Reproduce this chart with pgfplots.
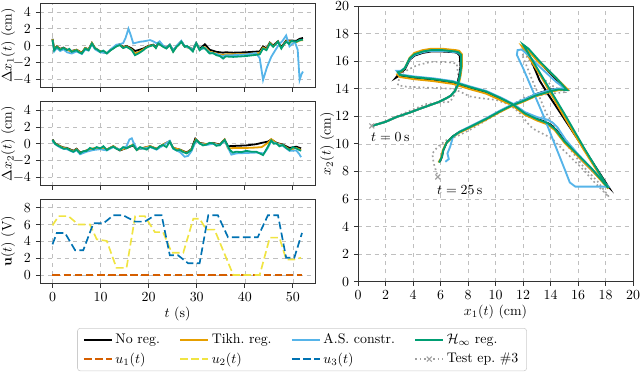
\documentclass[border=0pt]{standalone}
\usepackage{pgfplots}
\pgfplotsset{compat=1.18}

\definecolor{cnoreg}{HTML}{000000}
\definecolor{ctikh}{HTML}{E69F00}
\definecolor{cas}{HTML}{56B4E9}
\definecolor{chinf}{HTML}{009E73}
\definecolor{cuone}{HTML}{D55E00}
\definecolor{cutwo}{HTML}{F0E442}
\definecolor{cuthree}{HTML}{0072B2}
\definecolor{ctest}{HTML}{A0A0A0}

\pgfplotsset{
  panel/.style={
    scale only axis,
    axis line style={black!80, line width=0.7pt},
    grid=major,
    grid style={dashed, black!25, line width=0.4pt},
    tick align=outside,
    major tick length=3pt,
    tick style={black!80, line width=0.6pt},
    xtick pos=bottom, ytick pos=left,
    xlabel style={yshift=3pt},
    every axis plot/.append style={line width=1.3pt},
  },
  ts/.style={
    panel, width=198pt, height=60.5pt,
    xmin=-2.6, xmax=54.6, xtick={0,10,...,50},
    every axis y label/.style={at={(axis description cs:-0.116,0.5)}, rotate=90, anchor=center},
  },
}

\begin{document}
\begin{tikzpicture}
\path[use as bounding box] (0,0) rectangle (460.8pt,267.84pt);

% --- Delta x1 ---
\begin{axis}[ts, at={(28.8pt,265.3pt)}, anchor=north west,
  ymin=-5, ymax=5, ytick={-4,-2,...,4}, xticklabels={},
  ylabel={$\Delta x_1(t)$ (cm)}]
\addplot[cnoreg] coordinates {(0,0.8)(0.35,-0.4)(0.9,-0.1)(1.6,-0.4)(2.3,-0.25)(3.0,-0.5)(4.0,-0.65)(5.0,-0.5)(6.1,-0.85)(6.8,-0.3)(7.5,-0.45)(8.2,0.3)(8.85,-0.3)(9.9,-0.7)(11.3,-0.9)(12.0,-0.55)(12.65,-0.3)(13.3,0.0)(14.0,0.15)(14.7,-0.2)(15.4,-0.05)(16.5,-0.35)(17.15,-0.65)(17.85,-0.55)(18.9,-0.35)(19.9,-0.05)(20.95,0.1)(21.5,-0.2)(22.0,0.3)(23.0,-0.05)(23.7,-0.25)(24.4,0.1)(25.1,-0.6)(25.8,-0.1)(26.8,0.5)(27.5,-0.1)(28.6,-0.25)(29.2,-0.5)(29.9,0.3)(30.6,-0.4)(31.7,0.15)(32.7,-0.5)(34.1,-0.75)(35.5,-0.85)(36.0,-0.8)(37.6,-0.85)(40.3,-0.8)(43.1,-0.7)(43.8,-0.1)(44.5,-0.35)(45.2,0.35)(45.9,0.0)(46.9,0.5)(47.6,-0.2)(48.6,0.6)(49.7,0.6)(50.7,0.55)(51.4,0.8)(52.1,0.9)};
\addplot[ctikh] coordinates {(0,0.75)(0.35,-0.5)(0.9,-0.1)(1.6,-0.45)(2.3,-0.3)(3.0,-0.5)(4.0,-0.7)(5.0,-0.5)(6.1,-0.9)(6.8,-0.3)(7.5,-0.5)(8.2,0.3)(8.85,-0.3)(9.9,-0.7)(11.3,-0.9)(12.0,-0.55)(12.65,-0.3)(13.3,-0.05)(14.0,0.1)(14.7,-0.25)(15.4,-0.1)(16.5,-0.5)(17.15,-0.95)(17.85,-0.8)(18.9,-0.45)(19.9,-0.1)(20.95,0.05)(21.5,-0.25)(22.0,0.25)(23.0,-0.1)(23.7,-0.3)(24.4,0.05)(25.1,-0.7)(25.8,-0.15)(26.8,0.45)(27.5,-0.15)(28.6,-0.3)(29.2,-0.6)(29.9,0.25)(30.6,-0.5)(31.7,-0.2)(32.7,-0.75)(34.1,-0.95)(35.5,-1.15)(36.0,-1.05)(37.6,-1.05)(40.3,-1.0)(43.1,-0.9)(43.8,-0.25)(44.5,-0.45)(45.2,0.3)(45.9,-0.1)(46.9,0.45)(47.6,-0.3)(48.6,0.5)(49.7,0.5)(50.7,0.4)(51.4,0.6)(52.1,0.65)};
\addplot[cas] coordinates {(0,0.6)(0.35,-0.7)(0.9,-0.3)(1.6,-0.65)(2.3,-0.45)(3.0,-0.8)(4.0,-0.95)(5.0,-0.7)(6.1,-1.0)(6.8,-0.5)(7.5,-0.6)(8.2,0.15)(8.85,-0.45)(9.9,-0.8)(11.3,-0.9)(12.0,-0.5)(12.65,-0.2)(13.3,0.1)(14.0,0.15)(14.7,0.3)(15.2,0.9)(15.8,2.0)(16.3,1.2)(16.8,0.25)(17.5,0.35)(18.2,0.45)(19.0,0.5)(19.9,0.6)(20.3,0.65)(20.95,0.5)(21.7,0.25)(22.3,0.5)(23.0,0.0)(23.7,-0.3)(24.4,0.1)(25.1,-0.6)(25.8,-0.05)(26.8,0.55)(27.5,-0.1)(28.6,-0.3)(29.2,-0.55)(29.9,0.3)(30.6,-0.5)(31.7,-0.3)(32.7,-0.85)(34.1,-1.0)(35.5,-1.3)(36.0,-1.15)(37.6,-1.15)(40.3,-1.05)(42.3,-0.9)(43.1,-1.5)(43.8,-4.1)(44.6,-2.6)(45.5,-1.35)(46.4,-0.5)(47.2,0.2)(47.9,0.6)(48.6,1.2)(49.3,-0.1)(50.4,0.45)(51.0,-0.5)(51.4,-4.1)(51.8,-3.4)(52.1,-3.1)};
\addplot[chinf] coordinates {(0,0.7)(0.35,-0.55)(0.9,-0.15)(1.6,-0.5)(2.3,-0.3)(3.0,-0.55)(3.5,-0.4)(4.0,-0.75)(5.0,-0.55)(5.5,-0.8)(6.1,-0.95)(6.8,-0.35)(7.5,-0.55)(8.2,0.25)(8.85,-0.35)(9.4,-0.5)(9.9,-0.75)(10.6,-0.6)(11.3,-0.95)(12.0,-0.6)(12.65,-0.35)(13.3,-0.1)(14.0,0.05)(14.7,-0.3)(15.4,-0.15)(16.0,-0.35)(16.5,-0.55)(17.15,-1.15)(17.85,-0.95)(18.4,-0.75)(18.9,-0.55)(19.4,-0.3)(19.9,-0.15)(20.95,0.05)(21.5,-0.3)(22.0,0.25)(23.0,-0.15)(23.7,-0.35)(24.4,0.05)(25.1,-0.75)(25.8,-0.15)(26.3,0.1)(26.8,0.45)(27.5,-0.15)(28.0,-0.05)(28.6,-0.35)(29.2,-0.7)(29.9,0.25)(30.6,-0.55)(31.2,-0.2)(31.7,-0.35)(32.7,-0.95)(33.4,-0.9)(34.1,-1.15)(34.8,-1.25)(35.5,-1.55)(36.0,-1.3)(37.6,-1.35)(40.3,-1.25)(43.1,-1.05)(43.8,-0.35)(44.5,-0.55)(45.2,0.25)(45.9,-0.15)(46.9,0.45)(47.6,-0.35)(48.1,0.1)(48.6,0.45)(49.2,0.2)(49.7,0.55)(50.7,0.45)(51.4,0.65)(52.1,0.7)};
\end{axis}

% --- Delta x2 ---
\begin{axis}[ts, at={(28.8pt,194.6pt)}, anchor=north west,
  ymin=-5, ymax=5, ytick={-4,-2,...,4}, xticklabels={},
  ylabel={$\Delta x_2(t)$ (cm)}]
\addplot[cnoreg] coordinates {(0,0.5)(0.55,0.05)(1.6,-0.3)(2.3,-0.45)(3.0,-0.5)(4.35,-0.85)(5.0,-0.6)(5.75,-1.05)(7.1,-0.8)(8.5,-0.6)(9.9,-0.5)(11.3,-0.7)(12.65,-0.3)(14.0,-0.8)(15.4,-0.5)(16.8,-0.2)(17.5,-0.7)(18.9,-0.5)(20.3,-0.3)(21.65,-0.6)(23.0,-0.1)(24.4,0.3)(25.1,-0.5)(26.5,-0.7)(27.9,-1.05)(28.9,-0.65)(29.7,0.6)(30.6,0.1)(32.0,-0.05)(33.4,0.1)(34.8,-0.1)(35.8,0.5)(36.5,-0.3)(38.2,-0.25)(40.3,-0.2)(42.4,-0.05)(43.5,0.1)(44.8,0.25)(45.5,0.5)(46.6,0.1)(47.9,-0.1)(49.3,-0.5)(50.7,-0.35)(51.7,-0.55)};
\addplot[ctikh] coordinates {(0,0.45)(0.55,0.0)(1.6,-0.3)(2.3,-0.5)(3.0,-0.55)(4.35,-0.9)(5.0,-0.65)(5.75,-1.1)(7.1,-0.8)(8.5,-0.55)(9.9,-0.5)(11.3,-0.7)(12.65,-0.3)(14.0,-0.75)(15.4,-0.5)(16.8,-0.1)(17.5,-0.7)(18.9,-0.5)(20.3,-0.3)(21.65,-0.6)(23.0,-0.1)(24.4,0.3)(25.1,-0.5)(26.5,-0.7)(27.9,-1.1)(28.9,-0.7)(29.8,0.5)(30.6,0.05)(32.0,-0.05)(33.4,0.05)(34.8,-0.15)(35.8,0.5)(36.5,-0.55)(38.2,-0.5)(40.3,-0.5)(42.4,-0.45)(43.5,-0.4)(44.8,0.1)(45.5,0.55)(46.6,0.05)(47.9,-0.15)(49.3,-0.7)(50.7,-0.5)(51.7,-0.75)};
\addplot[cas] coordinates {(0,0.35)(0.55,-0.05)(1.6,-0.45)(2.3,-0.6)(3.0,-0.65)(4.35,-1.0)(5.0,-0.75)(5.75,-1.25)(7.1,-0.95)(8.5,-0.75)(9.9,-0.65)(11.3,-0.8)(12.65,-0.4)(14.0,-0.7)(15.4,-0.3)(16.0,0.5)(16.5,0.65)(16.8,0.2)(17.5,-0.6)(18.9,-0.6)(20.3,-0.4)(21.65,-0.7)(23.0,-0.2)(24.4,0.35)(25.1,-0.6)(26.5,-1.0)(27.5,-1.55)(28.2,-1.45)(28.9,-0.9)(29.9,0.4)(30.6,0.0)(32.0,-0.15)(33.4,0.0)(34.8,-0.2)(35.8,0.4)(37.2,-1.3)(38.2,-1.15)(40.3,-1.1)(42.4,-1.05)(44.0,-1.15)(44.8,-0.5)(45.5,0.3)(46.6,0.0)(47.9,-0.25)(49.3,-0.85)(50.7,-0.8)(51.3,-1.2)(51.7,-1.6)};
\addplot[chinf] coordinates {(0,0.45)(0.55,0.0)(1.0,-0.2)(1.6,-0.35)(2.3,-0.6)(3.0,-0.55)(3.7,-0.8)(4.35,-0.95)(5.0,-0.7)(5.75,-1.15)(6.4,-0.9)(7.1,-0.85)(7.8,-0.5)(8.5,-0.65)(9.2,-0.4)(9.9,-0.55)(10.6,-0.3)(11.3,-0.75)(12.0,-0.5)(12.65,-0.35)(13.3,-0.6)(14.0,-0.75)(14.7,-0.4)(15.4,-0.55)(16.1,-0.3)(16.8,-0.15)(17.5,-0.75)(18.2,-0.4)(18.9,-0.55)(19.6,-0.7)(20.3,-0.35)(21.0,-0.5)(21.65,-0.65)(22.3,-0.3)(23.0,-0.15)(23.7,-0.4)(24.4,0.25)(25.1,-0.55)(25.8,-0.8)(26.5,-0.75)(27.2,-1.0)(27.9,-1.15)(28.9,-0.75)(29.4,0.0)(29.9,0.45)(30.6,0.05)(31.3,-0.2)(32.0,-0.1)(32.7,0.1)(33.4,0.05)(34.1,-0.25)(34.8,-0.15)(35.8,0.45)(36.9,-0.75)(37.5,-1.05)(38.2,-0.95)(39.3,-1.0)(40.3,-0.85)(41.4,-0.95)(42.4,-0.95)(43.8,-1.35)(44.8,-0.35)(45.5,0.4)(46.0,0.0)(46.6,0.05)(47.2,-0.3)(47.9,-0.15)(48.6,-0.5)(49.3,-0.75)(50.0,-0.4)(50.7,-0.55)(51.7,-0.85)};
\end{axis}

% --- inputs ---
\begin{axis}[ts, at={(28.8pt,124.3pt)}, anchor=north west,
  ymin=-1, ymax=9, ytick={0,2,...,8},
  xlabel={$t$ (s)}, ylabel={$\mathbf{u}(t)$ (V)},
  every axis plot/.append style={line width=1.2pt, dash pattern=on 5.5pt off 2.5pt}]
\addplot[cuone] coordinates {(0,0)(52,0)};
\addplot[cutwo] coordinates {(0,5.9)(1.25,7.0)(3.3,7.0)(5.4,6.0)(7.8,6.0)(9.2,4.25)(11.3,4.05)(13.3,0.85)(15.4,0.85)(17.2,7.0)(19.2,7.0)(21.3,5.1)(23.0,5.1)(24.8,2.65)(27.2,2.65)(29.3,6.7)(30.6,6.7)(32.0,5.4)(33.7,5.4)(37.6,0)(43.1,0)(45.2,4.45)(47.2,4.45)(48.6,1.85)(50.3,1.85)(51.7,2.05)};
\addplot[cuthree] coordinates {(0,3.65)(0.9,5.0)(2.6,5.0)(4.7,2.95)(6.4,2.95)(8.5,6.15)(10.6,6.15)(12.65,7.1)(14.7,7.1)(17.2,6.35)(19.2,6.35)(21.3,7.1)(22.7,7.1)(24.4,2.35)(26.1,2.35)(28.2,1.4)(30.6,1.4)(32.4,7.1)(34.4,7.1)(36.5,4.5)(42.7,4.5)(44.8,7.1)(46.9,7.1)(48.6,2.05)(50.3,2.05)(51.9,5.0)};
\end{axis}

% --- trajectory ---
\begin{axis}[panel, at={(257.8pt,263.5pt)}, anchor=north west,
  width=198pt, height=198.5pt,
  xmin=0, xmax=20, ymin=0, ymax=20,
  xtick={0,2,...,20}, ytick={0,2,...,20},
  xlabel={$x_1(t)$ (cm)}, ylabel={$x_2(t)$ (cm)},
  ylabel style={at={(axis description cs:-0.112,0.5)}, anchor=center},
  every axis plot/.append style={line width=1.35pt},
  legend columns=4,
  legend cell align=left,
  legend image code/.code={\draw[mark repeat=2,mark phase=2,#1] plot coordinates {(0pt,0pt)(10pt,0pt)(20pt,0pt)};},
  legend style={at={(-0.2036,-0.168)}, anchor=north, draw=black!20, rounded corners=2pt,
    inner xsep=4pt, inner ysep=2pt, row sep=1pt,
    /tikz/every even column/.append style={column sep=12pt}},
]
\addplot[ctest, line width=1.2pt, dash pattern=on 1.2pt off 2pt, forget plot] coordinates {(1.0,11.3)(2.0,11.65)(2.8,12.0)(4.0,12.5)(5.0,12.9)(6.0,13.0)(6.7,13.05)(7.05,13.65)(7.3,14.86)(7.18,15.83)(6.45,15.94)(5.3,15.95)(4.27,15.7)(3.3,15.2)(2.95,14.6)(2.9,14.25)(3.5,14.15)(4.5,14.1)(5.7,14.05)(6.9,14.0)(7.5,13.75)(8.1,13.45)(9.0,13.3)(10.0,13.2)(11.0,12.85)(11.7,12.3)(12.5,11.3)(12.9,11.0)(14.1,10.4)(14.45,10.03)(15.4,9.1)(16.4,8.1)(17.3,7.1)(18.25,6.15)(17.4,7.3)(16.4,8.33)(14.93,10.27)(13.7,12.2)(12.6,14.8)(12.0,16.3)(11.9,16.5)(12.3,16.3)(13.2,14.9)(14.3,14.1)(15.0,13.75)(14.1,13.65)(13.0,13.5)(12.2,13.4)(11.3,12.9)(10.5,12.4)(9.3,11.7)(8.1,11.0)(7.3,10.6)(6.4,10.25)(5.8,9.8)(5.4,9.3)(5.5,8.6)(5.8,7.6)};
\addplot[ctest, only marks, mark=x, mark size=2.5pt, line width=0.8pt, forget plot] coordinates {(1.0,11.3)(5.8,7.6)};
\addplot[cnoreg] coordinates {(1.0,11.3)(2.0,11.6)(2.8,11.95)(3.7,12.25)(4.5,12.55)(5.2,12.8)(5.9,13.05)(6.4,13.3)(6.75,13.5)(7.05,13.85)(7.2,14.25)(7.35,14.9)(7.45,15.6)(7.4,16.4)(7.2,16.6)(7.0,16.65)(6.15,16.7)(5.3,16.7)(4.7,16.6)(4.1,16.4)(3.75,16.1)(3.4,15.4)(3.0,15.1)(2.75,14.8)(3.0,14.95)(4.0,14.8)(5.5,14.65)(6.9,14.45)(8.2,14.05)(9.3,13.75)(10.3,13.3)(11.2,12.85)(12.0,12.3)(12.4,12.0)(13.5,11.65)(14.0,11.4)(14.5,10.9)(15.2,10.0)(16.2,8.9)(17.2,7.9)(18.2,6.9)(16.0,10.3)(13.85,13.55)(13.2,14.6)(12.5,16.3)(12.1,17.1)(12.3,16.95)(13.2,15.9)(14.4,14.7)(15.2,13.95)(14.6,14.0)(14.0,13.95)(12.9,13.6)(12.0,13.15)(11.2,12.8)(10.3,12.35)(9.3,11.8)(8.3,11.3)(7.35,10.85)(6.9,10.55)(6.45,10.1)(6.2,9.55)(6.1,9.06)(5.95,8.7)};
\addlegendentry{No reg.}
\addplot[ctikh] coordinates {(1.0,11.3)(2.0,11.6)(2.8,11.95)(3.7,12.25)(4.5,12.55)(5.2,12.8)(5.9,13.05)(6.4,13.3)(6.75,13.5)(7.05,13.85)(7.3,14.25)(7.45,14.9)(7.55,15.6)(7.55,16.5)(7.35,16.75)(7.1,16.8)(6.15,16.9)(5.3,16.9)(4.7,16.8)(4.1,16.6)(3.75,16.25)(3.4,15.5)(3.1,15.2)(2.85,15.05)(3.05,14.85)(4.0,14.7)(5.5,14.55)(6.9,14.35)(8.2,13.95)(9.3,13.65)(10.3,13.2)(11.2,12.8)(12.15,12.1)(13.0,11.7)(13.8,11.4)(14.3,11.0)(15.0,10.1)(16.0,9.1)(17.0,8.1)(18.2,6.75)(16.4,9.6)(14.8,12.3)(13.3,14.9)(11.9,17.1)(12.3,16.85)(13.1,15.95)(14.4,14.8)(15.25,13.95)(14.6,13.9)(14.1,13.8)(12.9,13.45)(12.0,13.05)(11.2,12.75)(10.3,12.3)(9.3,11.75)(8.3,11.25)(7.35,10.8)(6.9,10.5)(6.4,10.05)(6.15,9.5)(6.05,9.0)(5.85,8.65)};
\addlegendentry{Tikh.\ reg.}
\addplot[cas] coordinates {(1.0,11.3)(2.0,11.6)(2.8,11.95)(3.7,12.25)(4.5,12.55)(5.2,12.8)(5.9,13.05)(6.4,13.3)(6.75,13.5)(7.05,13.85)(7.25,14.25)(7.4,14.9)(7.5,15.6)(7.5,16.4)(7.3,16.6)(7.1,16.65)(6.15,16.75)(5.3,16.75)(4.7,16.65)(4.1,16.45)(3.75,16.15)(3.4,15.5)(3.1,15.3)(2.8,15.3)(3.0,15.05)(4.0,14.9)(5.5,14.75)(6.9,14.55)(8.2,14.15)(9.3,13.85)(10.3,13.4)(11.2,12.95)(12.15,12.3)(13.0,11.95)(13.8,11.75)(14.2,11.5)(14.5,11.2)(15.1,10.3)(16.0,9.25)(17.0,8.2)(18.2,6.9)(15.8,6.9)(15.4,7.2)(15.05,8.1)(13.5,12.0)(12.0,15.5)(11.55,16.45)(11.6,16.8)(11.9,16.85)(12.3,16.5)(13.2,15.6)(14.4,14.5)(15.05,14.0)(14.6,14.0)(14.1,13.95)(12.9,13.6)(12.0,13.2)(11.2,12.85)(10.3,12.4)(9.3,11.85)(8.3,11.35)(7.4,10.9)(6.9,10.5)(6.7,9.8)(6.5,9.3)(6.6,8.9)(6.35,8.7)};
\addlegendentry{A.S.\ constr.}
\addplot[chinf] coordinates {(1.0,11.3)(2.0,11.6)(2.8,11.95)(3.7,12.25)(4.5,12.55)(5.2,12.8)(5.9,13.05)(6.4,13.3)(6.75,13.5)(7.05,13.85)(7.25,14.25)(7.4,14.9)(7.5,15.6)(7.5,16.45)(7.3,16.65)(7.1,16.7)(6.15,16.8)(5.3,16.8)(4.7,16.7)(4.1,16.5)(3.75,16.2)(3.4,15.5)(3.1,15.25)(2.9,15.2)(3.05,15.0)(4.0,14.85)(5.5,14.7)(6.9,14.5)(8.2,14.1)(9.3,13.8)(10.3,13.35)(11.2,12.9)(12.15,12.2)(13.0,11.8)(13.8,11.5)(14.3,11.1)(15.0,10.2)(16.0,9.2)(17.0,8.2)(18.2,6.8)(16.5,9.6)(15.0,12.2)(13.5,14.7)(12.0,17.2)(12.4,16.9)(13.24,15.96)(14.45,14.74)(15.2,13.9)(14.6,13.95)(14.1,13.85)(12.9,13.5)(12.0,13.1)(11.2,12.8)(10.3,12.35)(9.3,11.8)(8.3,11.3)(7.35,10.85)(6.9,10.55)(6.45,10.1)(6.2,9.55)(6.1,9.06)(5.9,8.65)};
\addlegendentry{$\mathcal{H}_\infty$ reg.}
\addlegendimage{cuone, line width=1.2pt, dash pattern=on 5.5pt off 2.5pt}
\addlegendentry{$u_1(t)$}
\addlegendimage{cutwo, line width=1.2pt, dash pattern=on 5.5pt off 2.5pt}
\addlegendentry{$u_2(t)$}
\addlegendimage{cuthree, line width=1.2pt, dash pattern=on 5.5pt off 2.5pt}
\addlegendentry{$u_3(t)$}
\addlegendimage{ctest, line width=1.2pt, dash pattern=on 1.2pt off 2pt, mark=x, mark size=2.5pt, mark options={solid, line width=0.8pt}}
\addlegendentry{Test ep.\ \#3}
\node at (axis cs:2.35,10.5) {$t = 0\,\mathrm{s}$};
\node at (axis cs:7.4,6.65) {$t = 25\,\mathrm{s}$};
\end{axis}
\end{tikzpicture}
\end{document}
